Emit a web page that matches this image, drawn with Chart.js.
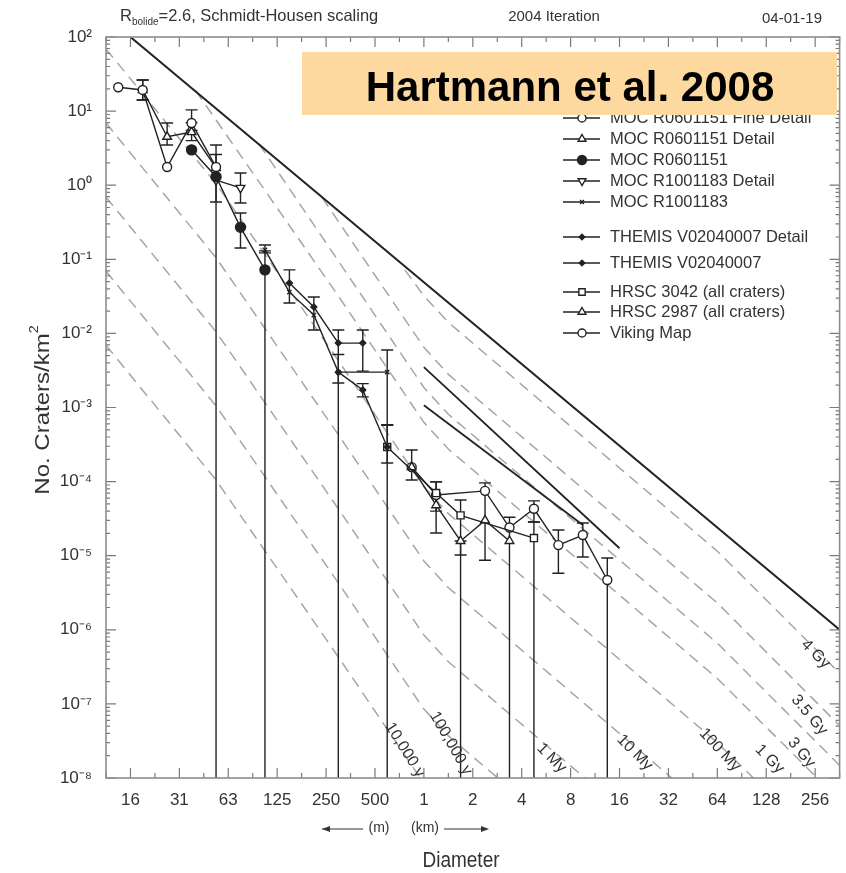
<!DOCTYPE html>
<html><head><meta charset="utf-8">
<script src="https://cdn.jsdelivr.net/npm/chart.js@4.4.1/dist/chart.umd.min.js"></script>
<style>html,body{margin:0;padding:0;background:#fff;}</style>
</head><body>
<canvas id="c" width="846" height="873"></canvas>
<script>
// ---------------- DATA ----------------
// x axis: log2(Diameter / km); tick labels
const xTickU = [-6,-5,-4,-3,-2,-1,0,1,2,3,4,5,6,7,8];
const xLabels = ['16','31','63','125','250','500','1','2','4','8','16','32','64','128','256'];
const yTickExp = [2,1,0,-1,-2,-3,-4,-5,-6,-7,-8];

// crater counts (No. craters / km^2), error bars [low, high] (low 0 = down to axis)
const fineU = [-6.25,-5.75,-5.25,-4.75,-4.25];
const fineN = [21, 19.3, 1.76, 6.9, 1.76];
const fineErr = [null,[14.1,26.3],null,[5.5,10.4],[0,2.6]];

const detU = [-5.75,-5.25,-4.75,-4.25];
const detN = [19.3, 4.5, 5.2, 1.71];
const detErr = [[14.1,26.3],[3.49,6.9],[4.0,7.0],null];

const mocU = [-4.75,-4.25,-3.75,-3.25];
const mocN = [3.0, 1.3, 0.27, 0.072];
const mocErr = [null,null,[0.142,0.422],[0,0.13]];

const moc2detU = [-4.25,-3.75];
const moc2detN = [1.17, 0.92];
const moc2detErr = [[0.593,3.49],[0.575,1.46]];

const moc2U = [-3.25,-2.75,-2.25,-1.75,-0.75];
const moc2N = [0.134, 0.036, 0.0177, 0.0030, 0.0030];
const moc2Err = [[0.122,0.156],[0.0257,0.072],[0.0111,0.031],null,[0.00058,0.00597]];

const themDetU = [-2.75,-2.25,-1.75,-1.25];
const themDetN = [0.048, 0.0227, 0.0074, 0.0074];
const themDetErr = [null,null,[0.00214,0.0111],[0.0031,0.0111]];

const themU = [-1.75,-1.25,-0.75];
const themN = [0.0030, 0.00172, 0.000293];
const themErr = [[0,0.0052],[0.00139,0.0021],[0,0.00058]];

const hrsc1U = [-0.75,0.25,0.75,2.25];
const hrsc1N = [0.000293, 7.0e-5, 3.5e-5, 1.73e-5];
const hrsc1Err = [[0.000178,0.00058],[4.0e-5,9.9e-5],[1.02e-5,5.65e-5],[0,2.85e-5]];

const hrsc2U = [-0.25,0.25,0.75,1.25,1.75];
const hrsc2N = [1.57e-4, 4.8e-5, 1.58e-5, 3.0e-5, 1.58e-5];
const hrsc2Err = [[1.05e-4,2.67e-4],[2.02e-5,9.9e-5],[0,1.58e-5],[8.7e-6,9.6e-5],[0,3.3e-5]];

const vikU = [-0.25,0.25,1.25,1.75,2.25,2.75,3.25,3.75];
const vikN = [1.57e-4, 6.6e-5, 7.5e-5, 2.4e-5, 4.3e-5, 1.39e-5, 1.9e-5, 4.7e-6];
const vikErr = [null,null,null,null,[2.85e-5,5.5e-5],[5.8e-6,2.22e-5],[9.6e-6,2.76e-5],[0,9.3e-6]];

// isochrons (vertices)
const iso10kU = [-6.5,-4.25,-1.75,0];
const iso10kN = [6.9e-3,1.05e-4,4.3e-7,8.5e-9];
const iso100kU = [-6.5,-4.25,-1.75,0,0.5,6];
const iso100kN = [6.9e-2,1.05e-3,4.3e-6,8.5e-8,3.7e-8,3.0e-11];
const iso1MU = [-6.5,-4.25,-1.75,0,0.5,6];
const iso1MN = [0.69,1.05e-2,4.3e-5,8.5e-7,3.7e-7,3.0e-10];
const iso10MU = [-6.5,-4.25,-1.75,0,0.5,6];
const iso10MN = [6.9,0.105,4.3e-4,8.5e-6,3.7e-6,3.0e-9];
const iso100MU = [-6.5,-4.25,-1.75,0,0.5,6,8.5];
const iso100MN = [69,1.05,4.3e-3,8.5e-5,3.7e-5,3.0e-8,7.2e-10];
const iso1GU = [-4.67,-1.75,0,0.5,6,8.5];
const iso1GN = [19,3.2e-2,6.3e-4,2.75e-4,2.2e-7,5.0e-9];
const iso3GU = [-3.37,-1.75,0,0.5,6,8.5];
const iso3GN = [3.6,9.5e-2,1.86e-3,8.1e-4,6.6e-7,1.48e-8];
const iso35GU = [-2.08,0,0.5,6,8.5];
const iso35GN = [0.68,6.5e-3,2.8e-3,2.3e-6,5.1e-8];
const iso4GU = [-0.39,0,0.5,6,8.5];
const iso4GN = [7.2e-2,3.2e-2,1.41e-2,1.15e-5,2.6e-7];

// saturation equilibrium and two solid reference lines
const satU = [-6, 8.5];
const satN = [100, 1e-6];
const lineAU = [0, 4.0];
const lineAN = [3.5e-3, 1.26e-5];
const lineBU = [0, 3.25];
const lineBN = [1.07e-3, 2.6e-5];

// isochron labels: text, anchor (u, N), angle
const isoLabelText = ['10,000 y','100,000 y','1 My','10 My','100 My','1 Gy','3 Gy','3.5 Gy','4 Gy'];
const isoLabelU = [-0.39,0.55,2.61,4.31,6.05,7.07,7.72,7.88,8.01];
const isoLabelN = [2.4e-8,2.95e-8,1.86e-8,2.2e-8,2.4e-8,1.8e-8,2.2e-8,7.1e-8,4.7e-7];
const isoLabelAngle = [58,60,45,45,47,45,50,50,45];

// ---------------- STYLE / BUILD ----------------
const FONT = '"Liberation Sans", Arial, Helvetica, sans-serif';
const INK = '#222';
const series = [
  {label:'MOC R0601151 Fine Detail', u:fineU, n:fineN, err:fineErr, style:'circle', fill:false, r:4.5},
  {label:'MOC R0601151 Detail', u:detU, n:detN, err:detErr, style:'triangle', fill:false, r:5},
  {label:'MOC R0601151', u:mocU, n:mocN, err:mocErr, style:'circle', fill:true, r:5},
  {label:'MOC R1001183 Detail', u:moc2detU, n:moc2detN, err:moc2detErr, style:'triangle', rot:180, fill:false, r:5},
  {label:'MOC R1001183', u:moc2U, n:moc2N, err:moc2Err, style:'crossRot', fill:false, r:3},
  {label:'THEMIS V02040007 Detail', u:themDetU, n:themDetN, err:themDetErr, style:'rectRot', fill:true, r:3},
  {label:'THEMIS V02040007', u:themU, n:themN, err:themErr, style:'rectRot', fill:true, r:3},
  {label:'HRSC 3042 (all craters)', u:hrsc1U, n:hrsc1N, err:hrsc1Err, style:'rect', fill:false, r:5},
  {label:'HRSC 2987 (all craters)', u:hrsc2U, n:hrsc2N, err:hrsc2Err, style:'triangle', fill:false, r:5},
  {label:'Viking Map', u:vikU, n:vikN, err:vikErr, style:'circle', fill:false, r:4.5}
];
const legendY = [118,139,160,181,202,237,263,292,312,333];

const isochrons = [[iso10kU,iso10kN],[iso100kU,iso100kN],[iso1MU,iso1MN],[iso10MU,iso10MN],[iso100MU,iso100MN],[iso1GU,iso1GN],[iso3GU,iso3GN],[iso35GU,iso35GN],[iso4GU,iso4GN]];
const pts = (u,n)=>u.map((v,i)=>({x:v,y:n[i]}));

const datasets = [];
series.forEach(s=>datasets.push({
  label:s.label, data:pts(s.u,s.n), borderColor:INK, borderWidth:1.4,
  pointStyle:s.style, pointRotation:s.rot||0, pointRadius:s.r, pointBorderWidth:1.4,
  pointBackgroundColor:s.fill?INK:'#fff', pointBorderColor:INK, fill:false, tension:0, order:0
}));
datasets.push({data:pts(satU,satN), borderColor:INK, borderWidth:2, pointRadius:0, order:4, clip:0});
datasets.push({data:pts(lineAU,lineAN), borderColor:INK, borderWidth:1.8, pointRadius:0, order:4, clip:0});
datasets.push({data:pts(lineBU,lineBN), borderColor:INK, borderWidth:1.8, pointRadius:0, order:4, clip:0});
isochrons.forEach(p=>datasets.push({data:pts(p[0],p[1]), borderColor:'#a6a6a6', borderWidth:1.5, borderDash:[11,7], pointRadius:0, order:5, clip:0}));

const SUP = {'-':'\u207B','0':'\u2070','1':'\u00B9','2':'\u00B2','3':'\u00B3','4':'\u2074','5':'\u2075','6':'\u2076','7':'\u2077','8':'\u2078','9':'\u2079'};
const supStr = s => String(s).split('').map(c=>SUP[c]).join('');

function drawErrors(chart){
  const ctx=chart.ctx, xs=chart.scales.x, ys=chart.scales.y, a=chart.chartArea;
  ctx.save();
  ctx.beginPath(); ctx.rect(a.left,a.top,a.right-a.left,a.bottom-a.top); ctx.clip();
  ctx.strokeStyle=INK; ctx.lineWidth=1.4;
  series.forEach(s=>s.err.forEach((e,i)=>{
    if(!e) return;
    const x=xs.getPixelForValue(s.u[i]);
    const yt=ys.getPixelForValue(e[1]);
    const yb=e[0]>0?ys.getPixelForValue(e[0]):a.bottom;
    ctx.beginPath(); ctx.moveTo(x,yt); ctx.lineTo(x,yb);
    ctx.moveTo(x-6,yt); ctx.lineTo(x+6,yt);
    if(e[0]>0){ctx.moveTo(x-6,yb); ctx.lineTo(x+6,yb);}
    ctx.stroke();
  }));
  ctx.restore();
}

const decor = {
  id:'decor',
  beforeDatasetDraw(chart,args){ if(args.index===series.length-1) drawErrors(chart); },
  afterDatasetsDraw(chart){
    const ctx=chart.ctx, xs=chart.scales.x, ys=chart.scales.y, a=chart.chartArea;
    ctx.save();
    ctx.beginPath(); ctx.rect(a.left,a.top,a.right-a.left,a.bottom-a.top); ctx.clip();
    ctx.fillStyle='#333'; ctx.font='16px '+FONT; ctx.textAlign='center'; ctx.textBaseline='middle';
    isoLabelText.forEach((t,i)=>{
      ctx.save();
      ctx.translate(xs.getPixelForValue(isoLabelU[i]), ys.getPixelForValue(isoLabelN[i]));
      ctx.rotate(isoLabelAngle[i]*Math.PI/180);
      ctx.fillText(t,0,0);
      ctx.restore();
    });
    ctx.restore();
  },
  afterDraw(chart){
    const ctx=chart.ctx, xs=chart.scales.x, ys=chart.scales.y, a=chart.chartArea;
    ctx.save();
    // ticks (inside, all four sides)
    ctx.strokeStyle='#7a7a7a'; ctx.lineWidth=1.2;
    ctx.beginPath();
    for(let u=-6.5;u<=8.5;u+=0.5){
      const x=xs.getPixelForValue(u); const L=(Math.abs(u-Math.round(u))<1e-6)?10:5;
      ctx.moveTo(x,a.bottom); ctx.lineTo(x,a.bottom-L);
      ctx.moveTo(x,a.top); ctx.lineTo(x,a.top+L);
    }
    for(let e=-8;e<=2;e++){
      for(let k=1;k<=9;k++){
        const v=k*Math.pow(10,e); if(v>100.0001) break;
        const y=ys.getPixelForValue(v); const L=k===1?10:4;
        ctx.moveTo(a.left,y); ctx.lineTo(a.left+L,y);
        ctx.moveTo(a.right,y); ctx.lineTo(a.right-L,y);
      }
    }
    ctx.stroke();
    // frame
    ctx.strokeStyle='#8c8c8c'; ctx.lineWidth=1.6;
    ctx.strokeRect(a.left,a.top,a.right-a.left,a.bottom-a.top);

    // header
    ctx.fillStyle='#333'; ctx.textBaseline='alphabetic'; ctx.textAlign='left';
    ctx.font='16.5px '+FONT;
    let x=120; ctx.fillText('R',x,21); x+=ctx.measureText('R').width;
    ctx.font='10px '+FONT; ctx.fillText('bolide',x,25); x+=ctx.measureText('bolide').width;
    ctx.font='16.5px '+FONT; ctx.fillText('=2.6, Schmidt-Housen scaling',x,21);
    ctx.textAlign='center'; ctx.font='15px '+FONT;
    ctx.fillText('2004 Iteration',554,21);
    ctx.fillText('04-01-19',792,23);

    // y title
    ctx.save();
    ctx.translate(42,410); ctx.rotate(-Math.PI/2); ctx.scale(1.2,1);
    ctx.font='20px '+FONT; ctx.textAlign='left';
    const w1=ctx.measureText('No. Craters/km').width;
    ctx.font='12px '+FONT; const w2=ctx.measureText('2').width;
    const sx=-(w1+w2)/2;
    ctx.font='20px '+FONT; ctx.fillText('No. Craters/km',sx,7);
    ctx.font='12px '+FONT; ctx.fillText('2',sx+w1,-4);
    ctx.restore();

    // bottom extra labels
    ctx.font='14px '+FONT; ctx.textAlign='center'; ctx.textBaseline='middle'; ctx.fillStyle='#333';
    ctx.fillText('(m)',379,828); ctx.fillText('(km)',425,828);
    ctx.strokeStyle='#333'; ctx.lineWidth=1.2;
    ctx.beginPath(); ctx.moveTo(322,829); ctx.lineTo(363,829); ctx.moveTo(444,829); ctx.lineTo(487,829); ctx.stroke();
    ctx.beginPath(); ctx.moveTo(322,829); ctx.lineTo(330,826); ctx.lineTo(330,832); ctx.closePath();
    ctx.moveTo(489,829); ctx.lineTo(481,826); ctx.lineTo(481,832); ctx.closePath(); ctx.fill();
    ctx.save(); ctx.translate(461,861); ctx.scale(1,1.12);
    ctx.font='19px '+FONT; ctx.fillText('Diameter',0,0); ctx.restore();

    // legend
    ctx.textAlign='left'; ctx.textBaseline='middle'; ctx.font='16.5px '+FONT;
    series.forEach((s,i)=>{
      const y=legendY[i];
      ctx.strokeStyle=INK; ctx.lineWidth=1.4;
      ctx.beginPath(); ctx.moveTo(563,y); ctx.lineTo(600,y); ctx.stroke();
      ctx.fillStyle=s.fill?INK:'#fff';
      Chart.helpers.drawPoint(ctx,{pointStyle:s.style,rotation:s.rot||0,radius:s.r*0.9,borderWidth:1.4},582,y);
      ctx.fillStyle='#333';
      ctx.fillText(s.label,610,y);
    });

    // orange annotation box
    ctx.fillStyle='rgb(253,217,160)';
    ctx.fillRect(302,52,535,63);
    ctx.fillStyle='#000'; ctx.font='bold 42px '+FONT; ctx.textAlign='center'; ctx.textBaseline='alphabetic';
    ctx.fillText('Hartmann et al. 2008',570,101);
    ctx.restore();
  }
};

new Chart(document.getElementById('c'),{
  type:'line',
  data:{datasets},
  options:{
    responsive:false, animation:false, devicePixelRatio:1,
    layout:{padding:{top:37,right:6,left:0,bottom:0}},
    plugins:{legend:{display:false},tooltip:{enabled:false},title:{display:false}},
    elements:{line:{tension:0}},
    scales:{
      x:{type:'linear',min:-6.5,max:8.5,
        afterBuildTicks:s=>{s.ticks=xTickU.map(v=>({value:v}));},
        afterFit:s=>{s.height=95;},
        ticks:{callback:(v,i)=>xLabels[i],font:{size:17,family:FONT},color:'#333',padding:12,maxRotation:0,autoSkip:false},
        grid:{display:false,drawTicks:false},border:{display:false}},
      y:{type:'logarithmic',min:1e-8,max:1e2,
        afterBuildTicks:s=>{s.ticks=yTickExp.map(e=>({value:Math.pow(10,e)}));},
        afterFit:s=>{s.width=106;},
        ticks:{callback:v=>'10'+supStr(Math.round(Math.log10(v))),font:{size:17,family:FONT},color:'#333',padding:14,autoSkip:false},
        grid:{display:false,drawTicks:false},border:{display:false}}
    }
  },
  plugins:[decor]
});
</script>
</body></html>
